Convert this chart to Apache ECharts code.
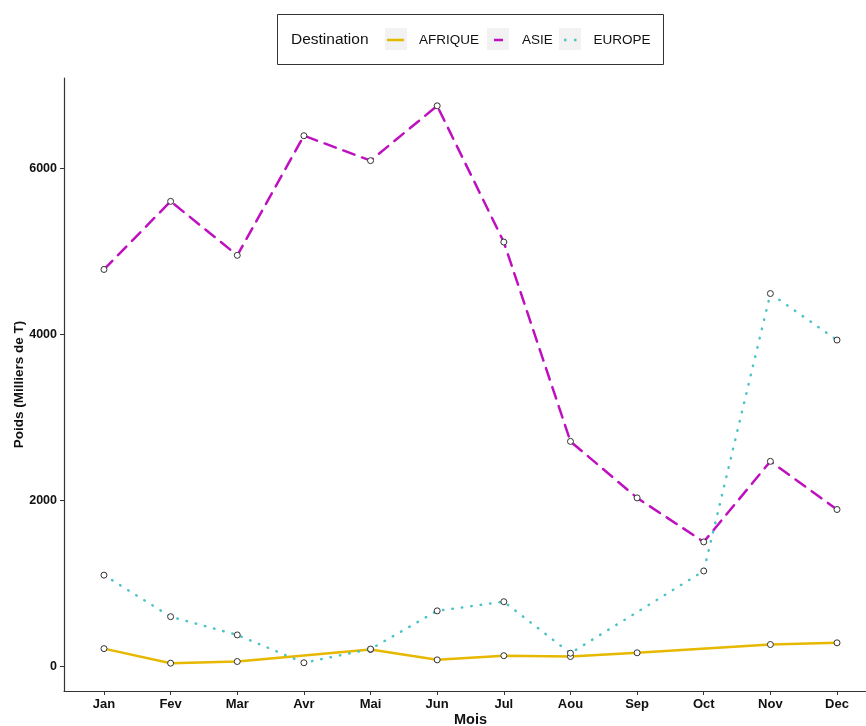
<!DOCTYPE html>
<html>
<head>
<meta charset="utf-8">
<script src="https://cdn.jsdelivr.net/npm/echarts@6/dist/echarts.min.js"></script>
<style>
html,body{margin:0;padding:0;background:#fff;}
#chart{width:866px;height:726px;}
</style>
</head>
<body>
<div id="chart"></div>
<script>
const months = ['Jan','Fev','Mar','Avr','Mai','Jun','Jul','Aou','Sep','Oct','Nov','Dec'];
const afrique = [215, 40, 60, null, 205, 80, 130, 120, 165, null, 265, 285];
const asie = [4780, 5600, 4950, 6390, 6090, 6750, 5110, 2710, 2030, 1500, 2470, 1890];
const europe = [1100, 600, 380, 45, 210, 670, 780, 160, null, 1150, 4490, 3930];
const yTicks = [0, 2000, 4000, 6000];
const monthIdx = months.map((m, i) => i);

const FONT = '"Liberation Sans", Arial, sans-serif';
const cAfr = '#E7B800', cAsi = '#BF10BF', cEur = '#4CC3C6';

function toPairs(arr){ return arr.map((v,i)=>[i, v]); }

const chart = echarts.init(document.getElementById('chart'), null, {renderer:'canvas'});

function mkSeries(name, data, color, type, z){
  return {
    name: name, type: 'line', data: toPairs(data), connectNulls: true, z: z,
    symbol: 'circle', symbolSize: 6, showAllSymbol: true,
    itemStyle: {color: '#fff', borderColor: '#333', borderWidth: 1},
    lineStyle: {color: color, width: 2.5, type: type, cap: type === 'solid' ? 'butt' : 'round'},
    emphasis: {disabled: true}, animation: false
  };
}

function mkLegend(name, left, icon, w, pad){
  return {
    data: [{name: name, icon: icon}], left: left, top: 33, itemWidth: w, itemHeight: 3,
    itemStyle: {color: name === 'AFRIQUE' ? cAfr : (name === 'ASIE' ? cAsi : cEur), borderWidth: 0},
    lineStyle: {opacity: 0},
    textStyle: {fontFamily: FONT, fontSize: 13.5, color: '#111', padding: [0,0,0,pad]},
    selectedMode: false, padding: 0
  };
}

chart.setOption({
  animation: false,
  backgroundColor: '#fff',
  grid: {left: 64, top: 78, width: 813, height: 613, containLabel: false, outerBoundsMode: 'none'},
  graphic: [
    {type: 'rect', shape: {x: 277.5, y: 14.5, width: 386, height: 50}, style: {fill: '#fff', stroke: '#333', lineWidth: 1}, z: 0},
    {type: 'text', left: 291, top: 32, style: {text: 'Destination', font: '15.5px ' + FONT, fill: '#111'}, z: 1},
    {type: 'rect', shape: {x: 385, y: 28, width: 22, height: 22}, style: {fill: '#f2f2f2'}, z: 1},
    {type: 'rect', shape: {x: 487, y: 28, width: 22, height: 22}, style: {fill: '#f2f2f2'}, z: 1},
    {type: 'rect', shape: {x: 559, y: 28, width: 22, height: 22}, style: {fill: '#f2f2f2'}, z: 1}
  ],
  legend: [
    mkLegend('AFRIQUE', 387, 'path://M0,0h17v2.5h-17z', 17, 10),
    mkLegend('ASIE', 494, 'path://M0,0h9v2.5h-9z', 9, 14),
    mkLegend('EUROPE', 564, 'path://M0,0h2.5v2.5h-2.5z M10,0h2.5v2.5h-2.5z', 12.5, 12)
  ],
  xAxis: {
    type: 'value', min: -0.6, max: 11.6,
    name: 'Mois', nameLocation: 'middle', nameGap: 21, nameMoveOverlap: false,
    nameTextStyle: {fontFamily: FONT, fontWeight: 'bold', fontSize: 14.5, color: '#111'},
    axisLine: {show: true, onZero: false, lineStyle: {color: '#333', width: 1.2}},
    axisTick: {show: true, length: 4, customValues: monthIdx, lineStyle: {color: '#333'}},
    axisLabel: {customValues: monthIdx, formatter: v => months[Math.round(v)], margin: 7,
      fontFamily: FONT, fontWeight: 'bold', fontSize: 13, color: '#111'},
    splitLine: {show: false}
  },
  yAxis: {
    type: 'value', min: -295, max: 7085,
    name: 'Poids (Milliers de T)', nameLocation: 'middle', nameGap: 38, nameMoveOverlap: false,
    nameTextStyle: {fontFamily: FONT, fontWeight: 'bold', fontSize: 13.5, color: '#111'},
    axisLine: {show: true, onZero: false, lineStyle: {color: '#333', width: 1.2}},
    axisTick: {show: true, length: 4, customValues: yTicks, lineStyle: {color: '#333'}},
    axisLabel: {customValues: yTicks, margin: 7, formatter: v => String(v),
      fontFamily: FONT, fontWeight: 'bold', fontSize: 12.5, color: '#111'},
    splitLine: {show: false}
  },
  series: [
    mkSeries('AFRIQUE', afrique, cAfr, 'solid', 2),
    mkSeries('ASIE', asie, cAsi, [12, 8], 3),
    mkSeries('EUROPE', europe, cEur, [0.5, 9], 4)
  ]
});
</script>
</body>
</html>
